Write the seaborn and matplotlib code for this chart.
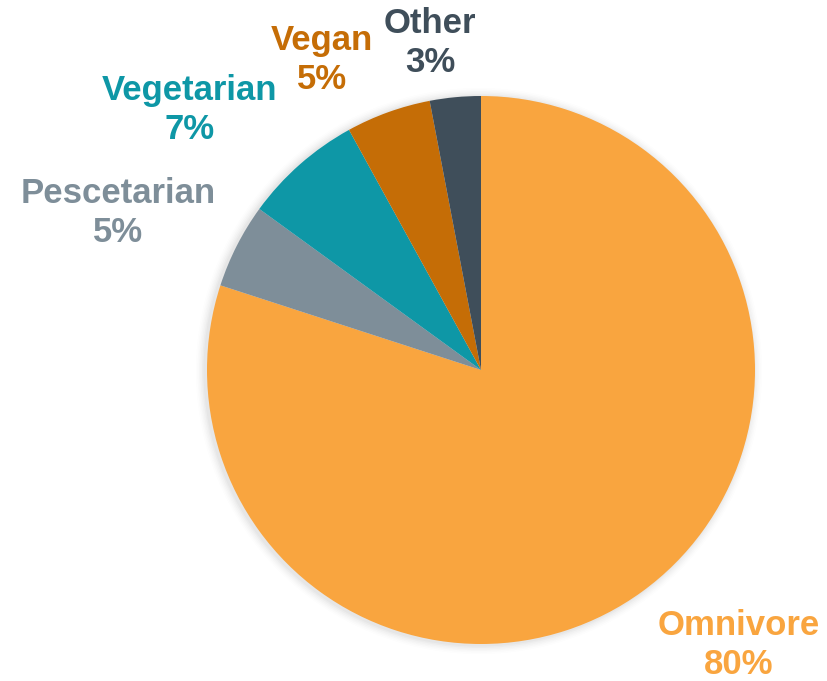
import matplotlib
matplotlib.use("Agg")
import matplotlib.pyplot as plt
import seaborn as sns
from matplotlib.patches import Circle

# Diet breakdown (percent of respondents)
diets = ["Omnivore", "Pescetarian", "Vegetarian", "Vegan", "Other"]
shares = [80, 5, 7, 5, 3]
colors = ["#F9A53F", "#7E8E99", "#0E97A6", "#C56D06", "#3F4E5A"]

sns.set_theme(style="white")
plt.rcParams["font.family"] = ["Liberation Sans", "DejaVu Sans"]

W, H = 828, 681
fig = plt.figure(figsize=(W / 100, H / 100), dpi=100)
ax = fig.add_axes([0, 0, 1, 1])

cx, cy, r = 481, 370, 274

# soft drop shadow around the pie
for i, a in enumerate([0.035, 0.03, 0.025, 0.02, 0.015, 0.01]):
    ax.add_patch(Circle((cx - 2, cy + 1), r + 1.5 * (i + 1), color="#555555",
                        alpha=a, lw=0, zorder=0))

wedges, _ = ax.pie(shares, colors=colors, startangle=90, counterclock=False,
                   center=(cx, cy), radius=r, frame=True,
                   wedgeprops=dict(linewidth=0))
ax.set_xlim(0, W)
ax.set_ylim(H, 0)
ax.set_aspect("equal")
ax.axis("off")
# y axis is inverted, so mirror wedge direction back to clockwise
for w in wedges:
    t1, t2 = w.theta1, w.theta2
    w.set_theta1(-t2)
    w.set_theta2(-t1)

label_pos = {
    "Omnivore": (739, 645),
    "Pescetarian": (118, 213),
    "Vegetarian": (190, 110),
    "Vegan": (322, 60),
    "Other": (430, 43),
}
for name, val, col in zip(diets, shares, colors):
    x, y = label_pos[name]
    ax.text(x, y, f"{name}\n{val}%", ha="center", va="center", color=col,
            fontsize=25, fontweight="bold", linespacing=1.2)

fig.savefig("out.png", dpi=100)
